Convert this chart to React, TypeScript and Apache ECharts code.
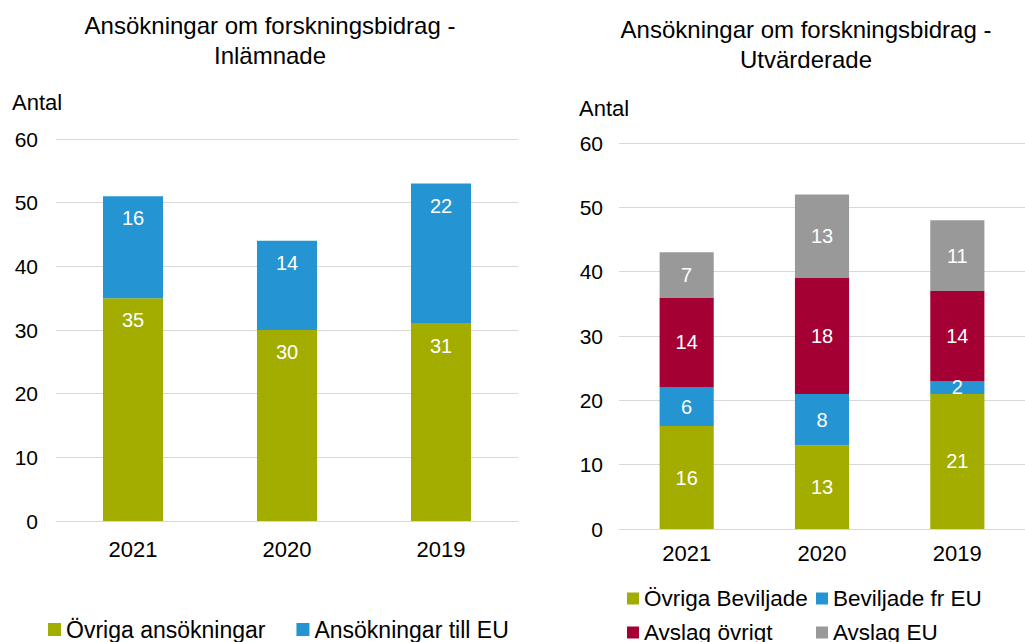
import React, { useEffect, useRef } from "react";
import * as echarts from "echarts";

const years = ["2021", "2020", "2019"];

// Left chart – Inlämnade
const ovrigaAnsokningar = [35, 30, 31];
const ansokningarTillEU = [16, 14, 22];

// Right chart – Utvärderade
const ovrigaBeviljade = [16, 13, 21];
const beviljadeFrEU = [6, 8, 2];
const avslagOvrigt = [14, 18, 14];
const avslagEU = [7, 13, 11];

const GREEN = "#a2ad00";
const BLUE = "#2494d3";
const RED = "#a50034";
const GRAY = "#999999";
const FONT = "'Liberation Sans', Arial, sans-serif";

export default function App() {
  const ref = useRef<HTMLDivElement>(null);
  useEffect(() => {
    if (!ref.current) return;
    const chart = echarts.init(ref.current, null, { renderer: "svg" });
    const labelCenter = {
      show: true,
      position: "inside",
      color: "#ffffff",
      fontSize: 20,
      fontFamily: FONT,
    };
    const labelTop = { ...labelCenter, position: "insideTop", distance: 12 };
    const bar = (name: string, data: number[], color: string, idx: number, stack: string, w: string, label: any) => ({
      name,
      type: "bar",
      stack,
      data,
      xAxisIndex: idx,
      yAxisIndex: idx,
      barWidth: w,
      itemStyle: { color },
      label,
    });
    const xAxis = (gridIndex: number, margin: number) => ({
      type: "category",
      gridIndex,
      data: years,
      axisLine: { show: true, lineStyle: { color: "#d9d9d9" } },
      axisTick: { show: false },
      axisLabel: { color: "#000", fontSize: 22, fontFamily: FONT, margin },
    });
    const yAxis = (gridIndex: number, margin: number) => ({
      type: "value",
      gridIndex,
      min: 0,
      max: 60,
      interval: 10,
      axisLine: { show: false },
      axisTick: { show: false },
      splitLine: { lineStyle: { color: "#d9d9d9", width: 1 } },
      axisLabel: { color: "#000", fontSize: 21, fontFamily: FONT, margin },
    });
    const titleStyle = { fontSize: 24, fontWeight: "normal", color: "#000", fontFamily: FONT, lineHeight: 30 };
    const legendBase = {
      icon: "rect",
      itemWidth: 13,
      itemHeight: 13,
      itemGap: 31,
      padding: 0,
      textStyle: { fontSize: 23, color: "#000", fontFamily: FONT },
      selectedMode: false,
    };
    const legendRight = {
      ...legendBase,
      itemWidth: 12,
      itemHeight: 12,
      textStyle: { fontSize: 22.5, color: "#000", fontFamily: FONT },
    };
    chart.setOption({
      animation: false,
      backgroundColor: "#ffffff",
      title: [
        { text: "Ansökningar om forskningsbidrag -\nInlämnade", left: 270, top: 10, padding: 0, textAlign: "center", textStyle: titleStyle },
        { text: "Ansökningar om forskningsbidrag -\nUtvärderade", left: 806, top: 14, padding: 0, textAlign: "center", textStyle: titleStyle },
      ],
      graphic: [
        { type: "text", left: 12, top: 91, style: { text: "Antal", fontSize: 22, fill: "#000", fontFamily: FONT } },
        { type: "text", left: 579, top: 97, style: { text: "Antal", fontSize: 22, fill: "#000", fontFamily: FONT } },
      ],
      legend: [
        { ...legendBase, data: ["Övriga ansökningar", "Ansökningar till EU"], left: 48, top: 618 },
        { ...legendRight, data: ["Övriga Beviljade"], left: 627, top: 587 },
        { ...legendRight, data: ["Beviljade fr EU"], left: 816, top: 587 },
        { ...legendRight, data: ["Avslag övrigt"], left: 627, top: 621 },
        { ...legendRight, data: ["Avslag EU"], left: 816, top: 621 },
      ],
      grid: [
        { left: 56, width: 462, top: 139, height: 382 },
        { left: 619, width: 417, top: 143, height: 386 },
      ],
      xAxis: [xAxis(0, 17), xAxis(1, 13)],
      yAxis: [yAxis(0, 18), yAxis(1, 16)],
      series: [
        bar("Övriga ansökningar", ovrigaAnsokningar, GREEN, 0, "a", "39%", labelTop),
        bar("Ansökningar till EU", ansokningarTillEU, BLUE, 0, "a", "39%", labelTop),
        bar("Övriga Beviljade", ovrigaBeviljade, GREEN, 1, "b", "40%", labelCenter),
        bar("Beviljade fr EU", beviljadeFrEU, BLUE, 1, "b", "40%", labelCenter),
        bar("Avslag övrigt", avslagOvrigt, RED, 1, "b", "40%", labelCenter),
        bar("Avslag EU", avslagEU, GRAY, 1, "b", "40%", labelCenter),
      ],
    });
    return () => chart.dispose();
  }, []);
  return (
    <div
      ref={ref}
      style={{ position: "fixed", left: 0, top: 0, width: 1025, height: 642 }}
    />
  );
}
